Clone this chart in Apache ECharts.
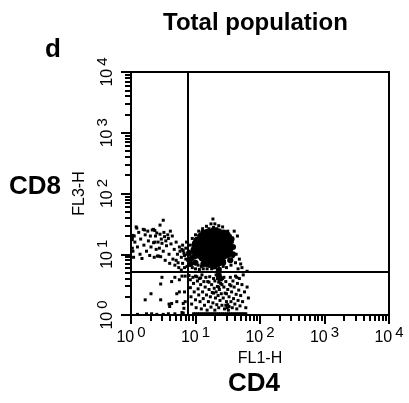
<!DOCTYPE html>
<html><head><meta charset="utf-8">
<style>html,body{margin:0;padding:0;background:#fff}#c{width:409px;height:403px}</style>
<script src="https://cdn.jsdelivr.net/npm/echarts@6/dist/echarts.min.js"></script>
</head><body><div id="c"></div>
<script>
// Events are [log10 FL1-H, log10 FL3-H].
const upperLeft = [[0.02,1.10],[0.02,1.28],[0.03,1.05],[0.03,1.31],[0.02,1.24],[0.04,0.95],[0.05,1.30],[0.06,1.20],[0.08,1.45],[0.09,1.43],[0.10,1.12],[0.12,1.36],[0.14,1.00],[0.15,1.25],[0.17,0.93],[0.19,1.41],[0.21,1.40],[0.20,1.15],[0.22,1.32],[0.24,1.05],[0.26,1.38],[0.27,1.22],[0.29,0.98],[0.30,1.30],[0.31,1.12],[0.33,1.40],[0.35,1.41],[0.37,1.39],[0.35,1.19],[0.37,1.20],[0.36,0.95],[0.38,1.30],[0.39,1.08],[0.40,1.35],[0.41,0.97],[0.43,0.97],[0.42,1.20],[0.44,1.10],[0.45,1.48],[0.45,1.33],[0.46,0.96],[0.47,1.25],[0.48,1.18],[0.50,1.56],[0.50,1.05],[0.51,1.36],[0.52,1.29],[0.53,0.90],[0.54,1.22],[0.55,1.14],[0.57,1.32],[0.58,1.26],[0.59,1.00],[0.60,0.85],[0.61,1.38],[0.62,1.17],[0.64,1.30],[0.65,0.92],[0.67,1.08],[0.68,0.82],[0.70,1.20],[0.72,1.00],[0.73,0.86],[0.75,1.12],[0.76,1.05],[0.78,0.95],[0.80,0.85],[0.80,1.15],[0.82,1.02],[0.83,0.78],[0.85,0.92],[0.85,1.10],[0.86,1.20],[0.87,0.80],[0.87,1.00],[0.79,1.08],[0.81,1.06],[0.83,0.98],[0.74,0.78],[0.78,0.74],[0.70,0.90]];
const lowerLeft = [[0.48,0.62],[0.46,0.51],[0.31,0.35],[0.22,0.25],[0.46,0.25],[0.63,0.55],[0.68,0.62],[0.79,0.64],[0.84,0.64],[0.75,0.58],[0.71,0.35],[0.75,0.38],[0.83,0.38],[0.71,0.22],[0.59,0.18],[0.63,0.19],[0.60,0.14],[0.81,0.19],[0.84,0.22],[0.82,0.11],[0.79,0.04],[0.81,0.03],[0.24,0.02],[0.40,0.01],[0.58,0.02],[0.10,0.01],[0.32,0.02],[0.50,0.01],[0.68,0.02]];
const blobCore = [[1.26,1.10],[1.14,1.10],[1.38,1.10],[1.26,0.98],[1.26,1.22],[1.14,0.98],[1.38,0.98],[1.14,1.22],[1.38,1.22],[1.05,1.04],[1.05,1.16],[1.47,1.04],[1.47,1.16],[1.20,1.31],[1.33,1.31],[1.20,0.90],[1.33,0.90],[1.45,1.28]];
const blobFringe = [[0.90,1.02],[0.93,0.92],[0.97,1.08],[0.98,0.96],[0.92,0.84],[1.00,0.86],[1.02,1.24],[1.07,1.30],[1.12,1.36],[1.28,1.40],[1.36,1.38],[1.44,1.36],[1.56,1.25],[1.58,1.12],[1.58,1.00],[1.54,0.90],[1.12,0.84],[1.43,0.86],[1.28,0.80],[1.36,0.74],[1.36,0.66],[1.38,0.60]];
const blobHalo = [[0.88,0.90],[0.90,1.05],[0.90,0.82],[0.92,1.15],[0.93,0.96],[0.95,1.26],[0.95,0.78],[0.98,1.18],[0.98,0.86],[1.00,1.32],[1.00,0.76],[1.02,1.25],[1.04,0.82],[1.05,1.38],[1.06,0.75],[1.08,1.33],[1.09,0.80],[1.11,1.42],[1.12,0.76],[1.14,1.37],[1.15,0.82],[1.17,1.46],[1.18,0.76],[1.21,1.42],[1.22,0.80],[1.24,1.50],[1.25,0.76],[1.27,1.58],[1.28,1.44],[1.30,1.50],[1.31,0.78],[1.33,1.42],[1.35,0.82],[1.36,1.47],[1.38,0.76],[1.40,1.38],[1.42,1.45],[1.43,0.80],[1.45,0.88],[1.48,0.78],[1.50,1.38],[1.52,0.90],[1.54,1.30],[1.55,0.82],[1.56,1.08],[1.57,1.20],[1.58,0.96],[1.60,1.38],[1.60,1.12],[1.62,0.86],[1.63,1.00],[1.65,1.30],[1.66,0.76],[1.68,0.92],[1.70,0.84],[1.72,0.78],[1.80,0.72],[1.36,0.70],[1.32,0.66],[1.38,0.64],[1.34,0.60],[1.40,0.58],[1.30,0.56],[1.36,0.54]];
const lowerRight = [[0.90,0.65],[0.92,0.58],[0.92,0.45],[0.93,0.30],[0.94,0.18],[0.96,0.62],[0.97,0.52],[0.98,0.38],[1.00,0.64],[1.02,0.63],[1.00,0.25],[1.01,0.12],[1.03,0.56],[1.04,0.43],[1.05,0.33],[1.06,0.60],[1.08,0.61],[1.07,0.22],[1.08,0.50],[1.09,0.10],[1.10,0.66],[1.11,0.38],[1.12,0.27],[1.13,0.55],[1.14,0.16],[1.15,0.46],[1.16,0.62],[1.17,0.33],[1.18,0.08],[1.19,0.55],[1.21,0.54],[1.20,0.22],[1.21,0.42],[1.22,0.63],[1.23,0.30],[1.24,0.13],[1.25,0.50],[1.26,0.37],[1.28,0.36],[1.27,0.20],[1.28,0.60],[1.29,0.44],[1.30,0.08],[1.31,0.28],[1.32,0.38],[1.33,0.17],[1.34,0.47],[1.36,0.46],[1.35,0.32],[1.36,0.12],[1.37,0.42],[1.38,0.24],[1.39,0.52],[1.41,0.50],[1.40,0.35],[1.41,0.16],[1.42,0.60],[1.44,0.62],[1.43,0.28],[1.44,0.46],[1.45,0.10],[1.46,0.36],[1.48,0.35],[1.47,0.55],[1.47,0.16],[1.48,0.22],[1.49,0.12],[1.50,0.42],[1.50,0.17],[1.51,0.08],[1.52,0.30],[1.52,0.14],[1.53,0.50],[1.55,0.48],[1.54,0.62],[1.55,0.22],[1.56,0.38],[1.57,0.12],[1.58,0.56],[1.59,0.27],[1.60,0.46],[1.61,0.18],[1.62,0.64],[1.64,0.62],[1.63,0.34],[1.64,0.10],[1.65,0.52],[1.66,0.24],[1.67,0.41],[1.68,0.60],[1.69,0.15],[1.70,0.32],[1.72,0.50],[1.73,0.22],[1.74,0.66],[1.76,0.38],[1.78,0.12],[1.80,0.46],[1.82,0.28]];
const baseline = [[0.97,0.02],[1.00,0.02],[1.03,0.02],[1.06,0.02],[1.09,0.02],[1.12,0.02],[1.15,0.02],[1.18,0.02],[1.21,0.02],[1.24,0.02],[1.27,0.02],[1.30,0.02],[1.33,0.02],[1.36,0.02],[1.39,0.02],[1.42,0.02],[1.45,0.02],[1.48,0.02],[1.51,0.02],[1.54,0.02],[1.57,0.02],[1.60,0.02],[1.63,0.02],[1.66,0.02],[1.69,0.02],[1.72,0.02],[1.75,0.02],[1.78,0.02]];
const gateX = 7.6;
const gateY = 5.1;
const axisMajor = [1,10,100,1000,10000];
const axisMinor = [2,3,4,5,6,7,8,9,20,30,40,50,60,70,80,90,200,300,400,500,600,700,800,900,2000,3000,4000,5000,6000,7000,8000,9000];

const toValues = list => list.map(p => [Math.pow(10,p[0]), Math.pow(10,p[1])]);
const rich = {b:{fontFamily:'Liberation Sans',fontSize:16,color:'#000'},s:{fontFamily:'Liberation Sans',fontSize:15,color:'#000',padding:[0,0,11,3]}};
const labelText = v => '{b|10}{s|' + Math.round(Math.log10(v)) + '}';
const dots = (data,size) => ({type:'scatter',data:toValues(data),symbol:size>4?'circle':'rect',symbolSize:size,itemStyle:{color:'#000',opacity:1},silent:true});
const base = {type:'log',logBase:10,min:1,max:10000,splitLine:{show:false},
  axisLine:{show:true,onZero:false,lineStyle:{color:'#000',width:2}}};
const titleFont = {fontFamily:'Liberation Sans',fontWeight:'bold',color:'#000'};
const nameFont = {fontFamily:'Liberation Sans',fontSize:16,color:'#000'};
const chart = echarts.init(document.getElementById('c'),null,{renderer:'canvas'});
chart.setOption({
  animation:false,backgroundColor:'#fff',
  title:[
    {text:'Total population',left:163,top:11,padding:0,textStyle:{...titleFont,fontSize:24}},
    {text:'d',left:45,top:37,padding:0,textStyle:{...titleFont,fontSize:26}},
    {text:'CD8',left:9,top:174,padding:0,textStyle:{...titleFont,fontSize:26}},
    {text:'CD4',left:228,top:371,padding:0,textStyle:{...titleFont,fontSize:26}}
  ],
  grid:{left:131,right:20,top:72,bottom:88,show:true,borderColor:'#000',borderWidth:2,backgroundColor:'transparent'},
  xAxis:[
    {...base,position:'bottom',name:'FL1-H',nameLocation:'middle',nameGap:27,nameTextStyle:nameFont,
     axisTick:{show:true,length:9,lineStyle:{color:'#000',width:2},customValues:axisMajor},
     axisLabel:{margin:10,customValues:axisMajor,formatter:labelText,rich,hideOverlap:false}},
    {...base,position:'bottom',axisTick:{show:true,length:6,lineStyle:{color:'#000',width:2},customValues:axisMinor},axisLabel:{show:false}}
  ],
  yAxis:[
    {...base,position:'left',name:'FL3-H',nameLocation:'middle',nameGap:29,nameRotate:90,nameTextStyle:nameFont,
     axisTick:{show:true,length:10,lineStyle:{color:'#000',width:2},customValues:axisMajor},
     axisLabel:{margin:10,rotate:90,customValues:axisMajor,formatter:labelText,rich,hideOverlap:false}},
    {...base,position:'left',axisTick:{show:true,length:6,lineStyle:{color:'#000',width:2},customValues:axisMinor},axisLabel:{show:false}}
  ],
  series:[
    {...dots(upperLeft,3),markLine:{silent:true,symbol:'none',animation:false,label:{show:false},lineStyle:{color:'#000',width:2,type:'solid'},data:[{xAxis:gateX},{yAxis:gateY}]}},
    dots(lowerLeft,3),dots(blobCore,14),dots(blobFringe,6),dots(blobHalo,3),dots(lowerRight,3),dots(baseline,3)
  ]
});
</script></body></html>
